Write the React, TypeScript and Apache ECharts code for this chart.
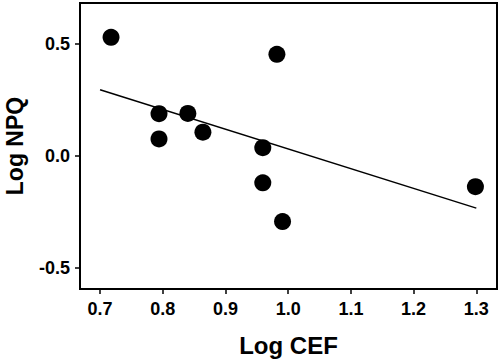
import React, { useEffect, useRef } from "react";
import * as echarts from "echarts";

const pointsX = [0.7175, 0.794, 0.794, 0.84, 0.864, 0.9595, 0.9595, 0.982, 0.991, 1.2986];
const pointsY = [0.53, 0.189, 0.076, 0.19, 0.106, 0.037, -0.12, 0.454, -0.293, -0.137];
const fitLineX = [0.7, 1.3];
const fitLineY = [0.296, -0.233];
const xTicks = [0.7, 0.8, 0.9, 1.0, 1.1, 1.2, 1.3];
const yTicks = [-0.5, 0, 0.5];

const FONT = "'Liberation Sans', Arial, Helvetica, sans-serif";

export default function App() {
  const ref = useRef<HTMLDivElement>(null);
  useEffect(() => {
    document.body.style.margin = "0";
    const chart = echarts.init(ref.current!, null, { renderer: "svg" });
    chart.setOption({
      animation: false,
      backgroundColor: "#fff",
      grid: {
        left: 80,
        top: 3,
        right: 3,
        bottom: 74,
        containLabel: false,
        outerBoundsMode: "none",
        show: true,
        borderColor: "#000",
        borderWidth: 2,
        backgroundColor: "transparent",
      },
      xAxis: {
        type: "value",
        min: 0.668,
        max: 1.333,
        name: "Log CEF",
        nameLocation: "middle",
        nameGap: 44,
        nameTextStyle: { fontFamily: FONT, fontWeight: "bold", fontSize: 24, color: "#000" },
        splitLine: { show: false },
        axisLine: { show: true, onZero: false, lineStyle: { color: "#000", width: 2 } },
        axisTick: { show: true, length: 5, lineStyle: { color: "#000", width: 1.5 }, customValues: xTicks },
        axisLabel: {
          customValues: xTicks,
          margin: 11,
          fontFamily: FONT,
          fontWeight: "bold",
          fontSize: 18,
          color: "#000",
          formatter: (v: number) => v.toFixed(1),
        },
      },
      yAxis: {
        type: "value",
        min: -0.594,
        max: 0.683,
        name: "Log NPQ",
        nameLocation: "middle",
        nameGap: 54,
        nameTextStyle: { fontFamily: FONT, fontWeight: "bold", fontSize: 23, color: "#000", lineHeight: 23 },
        splitLine: { show: false },
        axisLine: { show: true, onZero: false, lineStyle: { color: "#000", width: 2 } },
        axisTick: { show: true, length: 5, lineStyle: { color: "#000", width: 1.5 }, customValues: yTicks },
        axisLabel: {
          customValues: yTicks,
          margin: 10,
          fontFamily: FONT,
          fontWeight: "bold",
          fontSize: 18,
          color: "#000",
          formatter: (v: number) => v.toFixed(1),
        },
      },
      series: [
        {
          type: "line",
          data: fitLineX.map((x, i) => [x, fitLineY[i]]),
          showSymbol: false,
          symbol: "none",
          lineStyle: { color: "#000", width: 1.5 },
          silent: true,
        },
        {
          type: "scatter",
          data: pointsX.map((x, i) => [x, pointsY[i]]),
          symbol: "circle",
          symbolSize: 17,
          itemStyle: { color: "#000", opacity: 1 },
        },
      ],
    });
    return () => chart.dispose();
  }, []);
  return <div ref={ref} style={{ width: 500, height: 363, position: "fixed", left: 0, top: 0 }} />;
}
